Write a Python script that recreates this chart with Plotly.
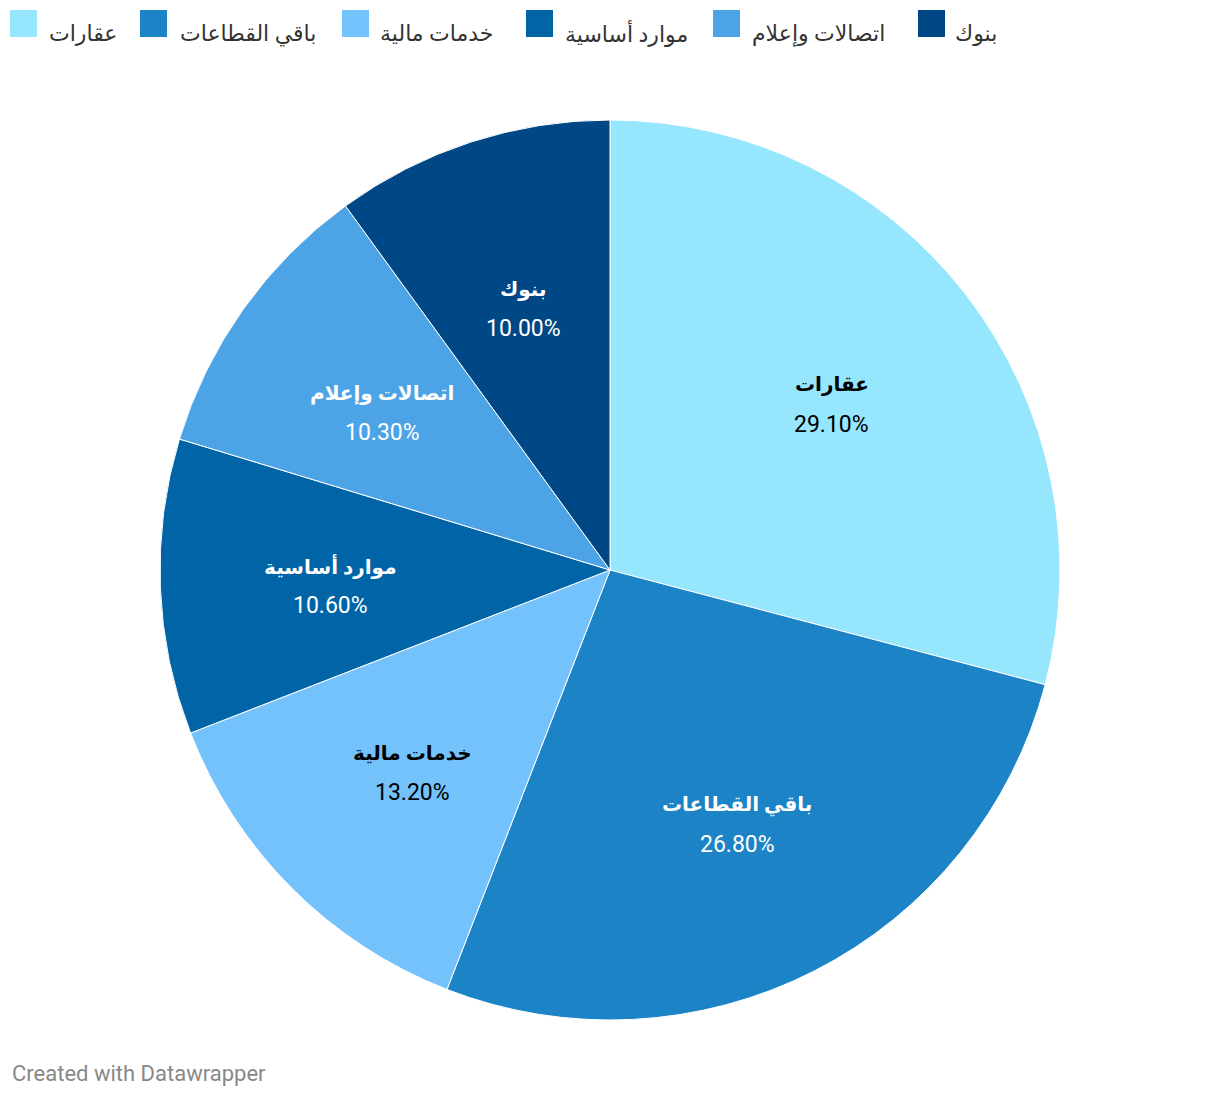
import math
import plotly.graph_objects as go

labels = ["عقارات", "باقي القطاعات", "خدمات مالية", "موارد أساسية", "اتصالات وإعلام", "بنوك"]
values = [29.1, 26.8, 13.2, 10.6, 10.3, 10.0]
colors = ["#96e6fe", "#1b83c6", "#73c2fb", "#0064a7", "#4ca3e6", "#004785"]
text_colors = ["#000000", "#ffffff", "#000000", "#ffffff", "#ffffff", "#ffffff"]
legend_text_x = [47, 178, 378, 563, 750, 953]
legend_box_x = [10, 140, 342, 526, 713, 918]

OFF = 8  # page body margin
W, H = 1220 - 2 * OFF, 1096 - 2 * OFF
CX, CY, R = 610 - OFF, 570 - OFF, 450
FONT = "Roboto, DejaVu Sans, sans-serif"


def px_x(x):
    return (x - OFF) / W


def px_y(y):
    return (H - (y - OFF)) / H


fig = go.Figure(go.Pie(
    labels=labels, values=values, sort=False, direction="clockwise", rotation=0,
    marker=dict(colors=colors, line=dict(color="#ffffff", width=1)),
    textinfo="none", hoverinfo="label+percent", showlegend=False,
    domain=dict(x=[(CX - R) / W, (CX + R) / W], y=[(H - CY - R) / H, (H - CY + R) / H]),
))

annotations = []
shapes = []
total = sum(values)
cum = 0.0
for lab, v, tc in zip(labels, values, text_colors):
    mid = (cum + v / 2) / total * 2 * math.pi
    cum += v
    r = 0.622 * R
    px = CX + r * math.sin(mid)
    py = CY - r * math.cos(mid) + 5
    xp, yp = px / W, (H - py) / H
    annotations.append(dict(x=xp, y=yp, xref="paper", yref="paper", text="<b>" + lab + "</b>",
                            xanchor="center", yanchor="middle",
                            showarrow=False, yshift=20, font=dict(family=FONT, size=20, color=tc)))
    annotations.append(dict(x=xp, y=yp, xref="paper", yref="paper", text=f"{v:.2f}%",
                            xanchor="center", yanchor="middle",
                            showarrow=False, yshift=-20, font=dict(family=FONT, size=23, color=tc)))

for lab, c, bx, tx in zip(labels, colors, legend_box_x, legend_text_x):
    shapes.append(dict(type="rect", xref="paper", yref="paper",
                       x0=px_x(bx), x1=px_x(bx + 27), y0=px_y(37), y1=px_y(10),
                       fillcolor=c, line=dict(width=0)))
    annotations.append(dict(x=px_x(tx), y=px_y(34), xref="paper", yref="paper", text=lab,
                            xanchor="left", yanchor="middle", showarrow=False,
                            font=dict(family=FONT, size=22, color="#333333")))

annotations.append(dict(x=px_x(10), y=px_y(1073), xref="paper", yref="paper",
                        text="Created with Datawrapper", xanchor="left", yanchor="middle",
                        showarrow=False, font=dict(family=FONT, size=22, color="#888888")))

fig.update_layout(width=W, height=H, margin=dict(l=0, r=0, t=0, b=0),
                  paper_bgcolor="#ffffff", plot_bgcolor="#ffffff",
                  annotations=annotations, shapes=shapes, showlegend=False)
fig.write_html("out.html")
